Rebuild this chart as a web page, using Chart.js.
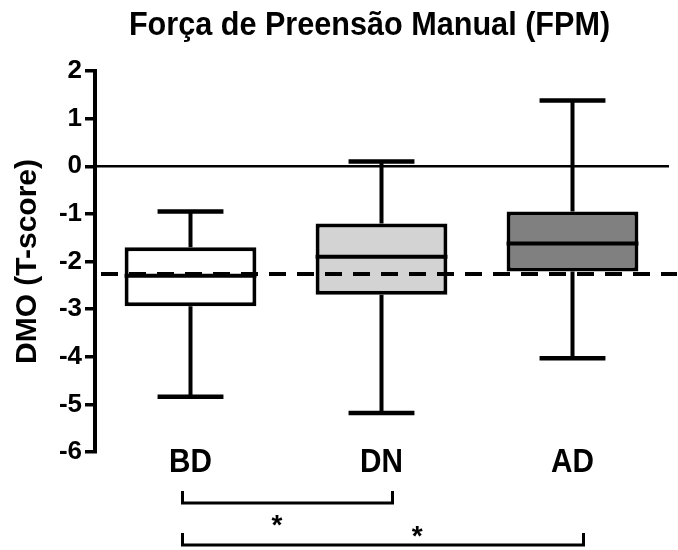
<!DOCTYPE html>
<html lang="pt">
<head>
<meta charset="UTF-8">
<title>Força de Preensão Manual (FPM)</title>
<script src="https://cdn.jsdelivr.net/npm/chart.js"></script>
<style>
  html, body { margin: 0; padding: 0; background: #fff; }
  #wrap { width: 678px; height: 550px; }
</style>
</head>
<body>
<div id="wrap"><canvas id="fpmChart"></canvas></div>
<script>
// box plot values (T-score)
const groups = ['BD', 'DN', 'AD'];
const whiskerMin = [-4.84, -5.18, -4.03];
const q1 = [-2.94, -2.70, -2.21];
const median = [-2.30, -1.90, -1.62];
const q3 = [-1.70, -1.20, -0.95];
const whiskerMax = [-0.95, 0.10, 1.38];
const boxColors = ['#ffffff', '#d3d3d3', '#808080'];

const zeroLine = 0;
const cutoffLine = -2.26;

// significance brackets (group index pairs) and their marks
const comparisons = [[0, 1], [0, 2]];
const compMarks = ['*', '*'];

const chartTitle = 'Força de Preensão Manual (FPM)';
const FONT = '"Liberation Sans", Arial, Helvetica, sans-serif';

// draws text slightly narrowed, like the original figure's lettering
function squeezedText(ctx, text, x, y, size, sx) {
    ctx.save();
    ctx.font = 'bold ' + size + 'px ' + FONT;
    ctx.textAlign = 'center';
    ctx.textBaseline = 'alphabetic';
    ctx.translate(x, y);
    ctx.scale(sx, 1);
    ctx.fillText(text, 0, 0);
    ctx.restore();
}

const boxPlot = {
    id: 'boxPlot',
    beforeDatasetsDraw(chart) {
        const { ctx, chartArea, scales: { y } } = chart;
        const yz = y.getPixelForValue(zeroLine);
        ctx.save();
        ctx.strokeStyle = '#000';
        ctx.lineWidth = 2.5;
        ctx.beginPath();
        ctx.moveTo(chartArea.left, yz);
        ctx.lineTo(chartArea.right + 1, yz);
        ctx.stroke();
        ctx.restore();
    },
    afterDatasetsDraw(chart) {
        const { ctx, chartArea, scales: { x, y } } = chart;
        const bars = chart.getDatasetMeta(0).data;
        ctx.save();
        ctx.strokeStyle = '#000';
        groups.forEach((g, i) => {
            const cx = x.getPixelForValue(i);
            const half = bars[i].width / 2;
            const cap = half / 2;
            // whiskers
            ctx.lineWidth = 4;
            ctx.beginPath();
            ctx.moveTo(cx, y.getPixelForValue(q3[i]));
            ctx.lineTo(cx, y.getPixelForValue(whiskerMax[i]));
            ctx.moveTo(cx, y.getPixelForValue(q1[i]));
            ctx.lineTo(cx, y.getPixelForValue(whiskerMin[i]));
            ctx.stroke();
            // caps
            ctx.lineWidth = 4.5;
            ctx.beginPath();
            ctx.moveTo(cx - cap, y.getPixelForValue(whiskerMax[i]));
            ctx.lineTo(cx + cap, y.getPixelForValue(whiskerMax[i]));
            ctx.moveTo(cx - cap, y.getPixelForValue(whiskerMin[i]));
            ctx.lineTo(cx + cap, y.getPixelForValue(whiskerMin[i]));
            ctx.stroke();
            // median
            ctx.lineWidth = 4;
            ctx.beginPath();
            ctx.moveTo(cx - half, y.getPixelForValue(median[i]));
            ctx.lineTo(cx + half, y.getPixelForValue(median[i]));
            ctx.stroke();
        });
        // dashed reference line
        const yc = y.getPixelForValue(cutoffLine);
        ctx.setLineDash([17, 11]);
        ctx.lineWidth = 4;
        ctx.beginPath();
        ctx.moveTo(chartArea.left + 6, yc);
        ctx.lineTo(chartArea.right + 9, yc);
        ctx.stroke();
        ctx.restore();
    },
    afterDraw(chart) {
        const { ctx, chartArea, scales: { x } } = chart;
        ctx.save();
        ctx.fillStyle = '#000';

        // title and group names
        squeezedText(ctx, chartTitle, (chartArea.left + chartArea.right) / 2 - 12, 35, 34, 0.9);
        groups.forEach((g, i) => {
            squeezedText(ctx, g, x.getPixelForValue(i), chartArea.bottom + 20, 33, 0.9);
        });

        // significance brackets
        const rowY = [chartArea.bottom + 51, chartArea.bottom + 93];
        const markY = [chartArea.bottom + 68, chartArea.bottom + 79];
        const markAt = [0.45, 0.585];
        ctx.strokeStyle = '#000';
        ctx.lineWidth = 3;
        ctx.font = 'bold 28px ' + FONT;
        ctx.textAlign = 'center';
        ctx.textBaseline = 'middle';
        comparisons.forEach(([a, b], k) => {
            const x0 = x.getPixelForValue(a) - 8;
            const x1 = x.getPixelForValue(b) + 11;
            ctx.beginPath();
            ctx.moveTo(x0, rowY[k] - 12);
            ctx.lineTo(x0, rowY[k]);
            ctx.lineTo(x1, rowY[k]);
            ctx.lineTo(x1, rowY[k] - 12);
            ctx.stroke();
            ctx.fillText(compMarks[k], x0 + (x1 - x0) * markAt[k], markY[k] + 6);
        });
        ctx.restore();
    }
};

new Chart(document.getElementById('fpmChart'), {
    type: 'bar',
    data: {
        labels: groups,
        datasets: [{
            data: groups.map((g, i) => [q1[i], q3[i]]),
            backgroundColor: boxColors,
            borderColor: '#000',
            borderWidth: 4,
            borderSkipped: false,
            categoryPercentage: 1,
            barPercentage: 0.69
        }]
    },
    options: {
        responsive: true,
        maintainAspectRatio: false,
        animation: false,
        devicePixelRatio: 1,
        layout: { padding: { left: 0, right: 10, top: 71, bottom: 0 } },
        plugins: {
            legend: { display: false },
            tooltip: { enabled: false },
            title: { display: false }
        },
        scales: {
            x: {
                grid: { display: false, drawTicks: false },
                border: { display: false },
                ticks: { display: false },
                afterFit(scale) { scale.height = 98; }
            },
            y: {
                min: -6,
                max: 2,
                ticks: { stepSize: 1, color: '#000', font: { family: FONT, size: 26, weight: 'bold' }, padding: 3 },
                grid: { drawOnChartArea: false, drawTicks: true, tickLength: 10, color: '#000', lineWidth: 3.5 },
                border: { display: true, color: '#000', width: 4 },
                title: {
                    display: true,
                    text: 'DMO (T-score)',
                    color: '#000',
                    font: { family: FONT, size: 30, weight: 'bold' },
                    padding: { top: 10, bottom: 0 }
                },
                afterFit(scale) { scale.width = 95; }
            }
        }
    },
    plugins: [boxPlot]
});
</script>
</body>
</html>
